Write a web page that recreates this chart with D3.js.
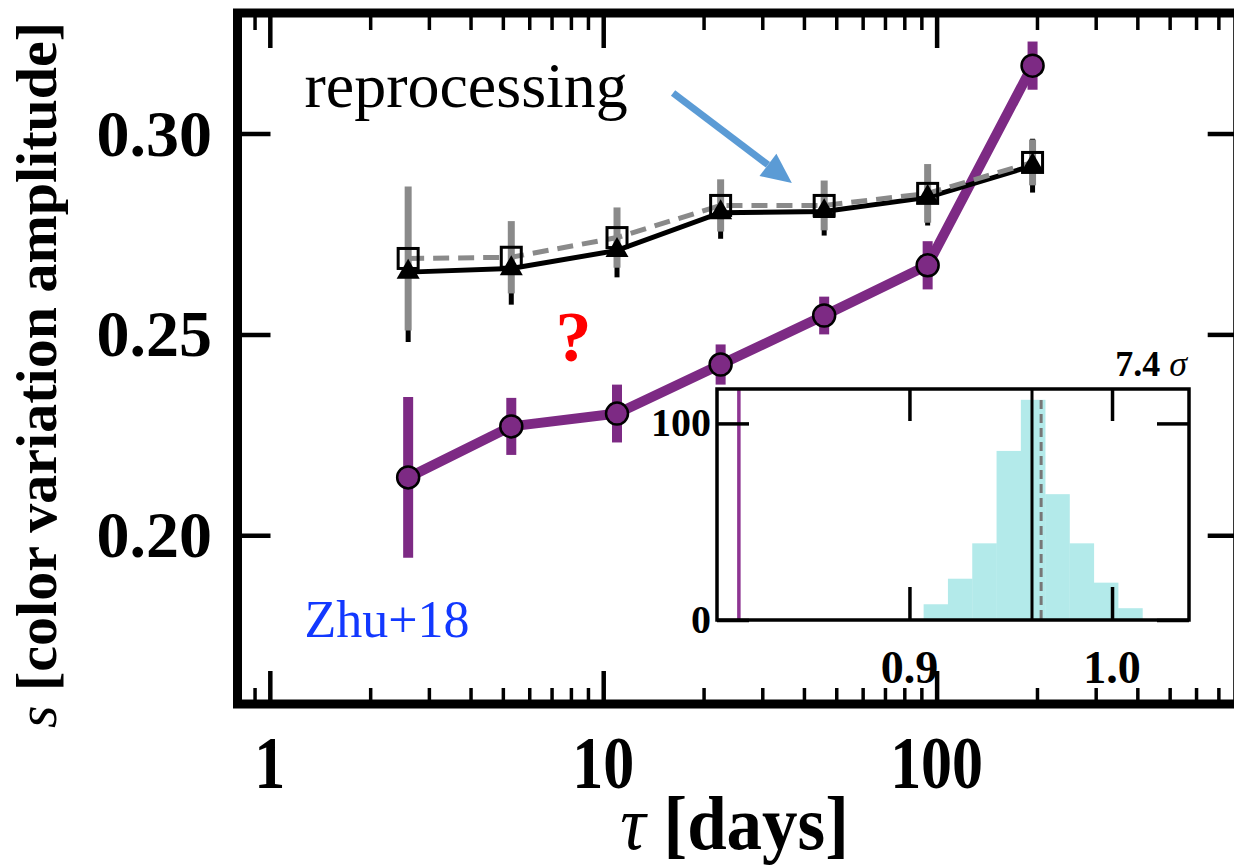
<!DOCTYPE html>
<html><head><meta charset="utf-8">
<script src="https://cdn.jsdelivr.net/npm/d3@7"></script>
<style>
body{margin:0;background:#fff}
svg{display:block}
</style>
</head><body>
<svg id="chart" width="1234" height="865" font-family="'Liberation Serif', 'Times New Roman', Tinos, serif"></svg>
<script>
// ---------------- data ----------------
const tau = [2.6, 5.3, 11, 22.5, 46, 94, 194];
const sObs = [0.2144, 0.2271, 0.2303, 0.2425, 0.2547, 0.2672, 0.3169];
const sObsErr = [0.020, 0.0071, 0.0072, 0.005, 0.0047, 0.006, 0.006];
const sRepOpen = [0.2689, 0.2692, 0.2741, 0.2821, 0.2821, 0.2851, 0.2928];
const sRepOpenErr = [0.0179, 0.009, 0.0075, 0.0065, 0.0062, 0.0073, 0.0057];
const sRepFilled = [0.2655, 0.2664, 0.2709, 0.2803, 0.2806, 0.2841, 0.2920];
const sRepFilledErr = [0.0174, 0.009, 0.0067, 0.0065, 0.006, 0.007, 0.0067];

const xTicks = [1, 10, 100];
const xTickLabels = ["1", "10", "100"];
const xMinorTicks = [0.9, 2, 3, 4, 5, 6, 7, 8, 9, 20, 30, 40, 50, 60, 70, 80, 90, 200, 300, 400, 500, 600, 700];
const yTicks = [0.20, 0.25, 0.30];
const yTickLabels = ["0.20", "0.25", "0.30"];

// inset histogram
const histEdges = [0.907, 0.919, 0.931, 0.943, 0.955, 0.967, 0.979, 0.991, 1.003, 1.015];
const histCounts = [8, 21, 39, 86, 112, 64, 39, 19, 6];
const insetXTicks = [0.9, 1.0];
const insetXTickLabels = ["0.9", "1.0"];
const insetYTicks = [0, 100];
const insetYTickLabels = ["0", "100"];
const insetObsLine = 0.8158;
const insetModelLine = 0.9605;
const insetModelDashedLine = 0.965;

// annotations (data coordinates)
const annReprocessing = {tau: 1.27, s: 0.3066, text: "reprocessing"};
const annArrow = {tau0: 16.2, s0: 0.3101, tau1: 36.8, s1: 0.2877};
const annQuestion = {tau: 8.15, s: 0.2435, text: "?"};
const annZhu = {tau: 1.27, s: 0.1748, text: "Zhu+18"};

// ---------------- layout ----------------
const svg = d3.select("#chart");
const L = 237.5, R = 1237.7, T = 13, B = 704;
const x = d3.scaleLog().domain([0.8, 800]).range([L, R]);
const y = d3.scaleLinear().domain([0.158, 0.33]).range([B, T]);

const purple = "#7d2a84";
const gray = "#8a8a8a";

function cleanAxis(g, w) {
  g.select(".domain").remove();
  g.selectAll(".tick line").attr("stroke", "#000").attr("stroke-width", w);
  g.selectAll(".tick text").remove();
}

// minor x ticks (bottom & top)
svg.append("g").attr("transform", `translate(0,${B})`)
  .call(d3.axisBottom(x).tickValues(xMinorTicks).tickSize(-16).tickFormat(""))
  .call(g => cleanAxis(g, 3.5));
svg.append("g").attr("transform", `translate(0,${T})`)
  .call(d3.axisTop(x).tickValues(xMinorTicks).tickSize(-17).tickFormat(""))
  .call(g => cleanAxis(g, 3.5));
// major x ticks
svg.append("g").attr("transform", `translate(0,${B})`)
  .call(d3.axisBottom(x).tickValues(xTicks).tickSize(-33).tickFormat(""))
  .call(g => cleanAxis(g, 4.5));
svg.append("g").attr("transform", `translate(0,${T})`)
  .call(d3.axisTop(x).tickValues(xTicks).tickSize(-35).tickFormat(""))
  .call(g => cleanAxis(g, 4.5));
// y ticks
svg.append("g").attr("transform", `translate(${L},0)`)
  .call(d3.axisLeft(y).tickValues(yTicks).tickSize(-33).tickFormat(""))
  .call(g => cleanAxis(g, 4.5));
svg.append("g").attr("transform", `translate(${R},0)`)
  .call(d3.axisRight(y).tickValues(yTicks).tickSize(-30).tickFormat(""))
  .call(g => cleanAxis(g, 4.5));

// frame
svg.append("rect").attr("x", L).attr("y", T).attr("width", R - L).attr("height", B - T)
  .attr("fill", "none").attr("stroke", "#000").attr("stroke-width", 9);

// tick labels (slightly tall, as in the reference)
svg.append("g").selectAll("text").data(xTicks).join("text")
  .attr("transform", d => `translate(${x(d)},788) scale(1,1.2)`)
  .attr("text-anchor", "middle")
  .attr("font-size", 62).attr("font-weight", "bold")
  .text((d, i) => xTickLabels[i]);
svg.append("g").selectAll("text").data(yTicks).join("text")
  .attr("x", 212).attr("y", d => y(d) + 22).attr("text-anchor", "end")
  .attr("font-size", 66).attr("font-weight", "bold")
  .text((d, i) => yTickLabels[i]);

// axis titles
const xt = svg.append("text").attr("transform", `translate(${(L + R) / 2 - 3},849) scale(1,1.06)`)
  .attr("text-anchor", "middle").attr("font-size", 71);
xt.append("tspan").attr("font-style", "italic").text("τ");
xt.append("tspan").attr("font-weight", "bold").text(" [days]");

const yt = svg.append("text").attr("transform", "translate(56,375) rotate(-90)")
  .attr("text-anchor", "middle").attr("font-size", 58);
yt.append("tspan").attr("font-style", "italic").text("s");
yt.append("tspan").attr("font-weight", "bold").text(" [color variation amplitude]");

// ---------------- data marks ----------------
const idx = d3.range(tau.length);
// purple series
svg.append("g").selectAll("line").data(idx).join("line")
  .attr("x1", i => x(tau[i])).attr("x2", i => x(tau[i]))
  .attr("y1", i => y(sObs[i] - sObsErr[i])).attr("y2", i => y(sObs[i] + sObsErr[i]))
  .attr("stroke", purple).attr("stroke-width", 10);
svg.append("path").datum(idx)
  .attr("d", d3.line().x(i => x(tau[i])).y(i => y(sObs[i])))
  .attr("fill", "none").attr("stroke", purple).attr("stroke-width", 10).attr("stroke-linejoin", "round");

// black error bars (filled triangles) then gray (open squares) on top
svg.append("g").selectAll("line").data(idx).join("line")
  .attr("x1", i => x(tau[i])).attr("x2", i => x(tau[i]))
  .attr("y1", i => y(sRepFilled[i] - sRepFilledErr[i])).attr("y2", i => y(sRepFilled[i] + sRepFilledErr[i]))
  .attr("stroke", "#000").attr("stroke-width", 5);
svg.append("g").selectAll("line").data(idx).join("line")
  .attr("x1", i => x(tau[i])).attr("x2", i => x(tau[i]))
  .attr("y1", i => y(sRepOpen[i] - sRepOpenErr[i])).attr("y2", i => y(sRepOpen[i] + sRepOpenErr[i]))
  .attr("stroke", gray).attr("stroke-width", 7);

// black solid line
svg.append("path").datum(idx)
  .attr("d", d3.line().x(i => x(tau[i])).y(i => y(sRepFilled[i])))
  .attr("fill", "none").attr("stroke", "#000").attr("stroke-width", 5);
// gray dashed line
svg.append("path").datum(idx)
  .attr("d", d3.line().x(i => x(tau[i])).y(i => y(sRepOpen[i])))
  .attr("fill", "none").attr("stroke", gray).attr("stroke-width", 5).attr("stroke-dasharray", "16,9");

// triangles
svg.append("g").selectAll("path").data(idx).join("path")
  .attr("transform", i => `translate(${x(tau[i])},${y(sRepFilled[i])})`)
  .attr("d", d3.symbol(d3.symbolTriangle, 230))
  .attr("fill", "#000");
// open squares
svg.append("g").selectAll("rect").data(idx).join("rect")
  .attr("x", i => x(tau[i]) - 10).attr("y", i => y(sRepOpen[i]) - 10)
  .attr("width", 20).attr("height", 20)
  .attr("fill", "none").attr("stroke", "#000").attr("stroke-width", 3);
// purple circles
svg.append("g").selectAll("circle").data(idx).join("circle")
  .attr("cx", i => x(tau[i])).attr("cy", i => y(sObs[i])).attr("r", 11)
  .attr("fill", purple).attr("stroke", "#000").attr("stroke-width", 2.5);

// ---------------- annotations ----------------
svg.append("text").attr("x", x(annReprocessing.tau)).attr("y", y(annReprocessing.s))
  .attr("font-size", 64).text(annReprocessing.text);
svg.append("text").attr("x", x(annQuestion.tau)).attr("y", y(annQuestion.s))
  .attr("text-anchor", "middle").attr("font-size", 72).attr("font-weight", "bold")
  .attr("fill", "#ff0000").text(annQuestion.text);
svg.append("text").attr("x", x(annZhu.tau)).attr("y", y(annZhu.s))
  .attr("font-size", 52).attr("fill", "#1238ff").text(annZhu.text);

// arrow
{
  const ax0 = x(annArrow.tau0), ay0 = y(annArrow.s0), ax1 = x(annArrow.tau1), ay1 = y(annArrow.s1);
  const ang = Math.atan2(ay1 - ay0, ax1 - ax0);
  const hl = 30, hw = 14;
  const bx = ax1 - hl * Math.cos(ang), by = ay1 - hl * Math.sin(ang);
  svg.append("line").attr("x1", ax0).attr("y1", ay0).attr("x2", bx).attr("y2", by)
    .attr("stroke", "#5b9bd5").attr("stroke-width", 7);
  const p = [[ax1, ay1],
    [bx + hw * Math.sin(ang), by - hw * Math.cos(ang)],
    [bx - hw * Math.sin(ang), by + hw * Math.cos(ang)]];
  svg.append("path").attr("d", "M" + p.map(q => q.join(",")).join("L") + "Z").attr("fill", "#5b9bd5");
}

// ---------------- inset ----------------
const iL = 717, iR = 1189, iT = 389, iB = 620;
const xi = d3.scaleLinear().domain([0.805, 1.038]).range([iL, iR]);
const yi = d3.scaleLinear().domain([0, 117.5]).range([iB, iT]);
const inset = svg.append("g");
inset.append("rect").attr("x", iL).attr("y", iT).attr("width", iR - iL).attr("height", iB - iT).attr("fill", "#fff");
inset.append("g").selectAll("rect").data(histCounts).join("rect")
  .attr("x", (d, i) => xi(histEdges[i])).attr("width", (d, i) => xi(histEdges[i + 1]) - xi(histEdges[i]) + 0.3)
  .attr("y", d => yi(d)).attr("height", d => yi(0) - yi(d))
  .attr("fill", "#b3eaea");
inset.append("line").attr("x1", xi(insetObsLine)).attr("x2", xi(insetObsLine)).attr("y1", iT).attr("y2", iB)
  .attr("stroke", "#8e3592").attr("stroke-width", 3.5);
inset.append("line").attr("x1", xi(insetModelLine)).attr("x2", xi(insetModelLine)).attr("y1", iT).attr("y2", iB)
  .attr("stroke", "#000").attr("stroke-width", 3);
inset.append("line").attr("x1", xi(insetModelDashedLine)).attr("x2", xi(insetModelDashedLine)).attr("y1", iT + 11).attr("y2", iB)
  .attr("stroke", "#777").attr("stroke-width", 3).attr("stroke-dasharray", "9,5");

inset.append("g").attr("transform", `translate(0,${iB})`)
  .call(d3.axisBottom(xi).tickValues(insetXTicks).tickSize(-33).tickFormat("")).call(g => cleanAxis(g, 3.5));
inset.append("g").attr("transform", `translate(0,${iT})`)
  .call(d3.axisTop(xi).tickValues(insetXTicks).tickSize(-32).tickFormat("")).call(g => cleanAxis(g, 3.5));
inset.append("g").attr("transform", `translate(${iL},0)`)
  .call(d3.axisLeft(yi).tickValues(insetYTicks).tickSize(-32).tickFormat("")).call(g => cleanAxis(g, 3.5));
inset.append("g").attr("transform", `translate(${iR},0)`)
  .call(d3.axisRight(yi).tickValues(insetYTicks).tickSize(-32).tickFormat("")).call(g => cleanAxis(g, 3.5));
inset.append("rect").attr("x", iL).attr("y", iT).attr("width", iR - iL).attr("height", iB - iT)
  .attr("fill", "none").attr("stroke", "#000").attr("stroke-width", 3.5);

inset.append("g").selectAll("text").data(insetXTicks).join("text")
  .attr("x", d => xi(d)).attr("y", 683).attr("text-anchor", "middle")
  .attr("font-size", 46).attr("font-weight", "bold").text((d, i) => insetXTickLabels[i]);
inset.append("g").selectAll("text").data(insetYTicks).join("text")
  .attr("x", 711).attr("y", d => yi(d) + 13).attr("text-anchor", "end")
  .attr("font-size", 40).attr("font-weight", "bold").text((d, i) => insetYTickLabels[i]);
const sig = inset.append("text").attr("x", 1187).attr("y", 376).attr("text-anchor", "end").attr("font-size", 36);
sig.append("tspan").attr("font-weight", "bold").text("7.4 ");
sig.append("tspan").attr("font-style", "italic").text("σ");
</script>
</body></html>
